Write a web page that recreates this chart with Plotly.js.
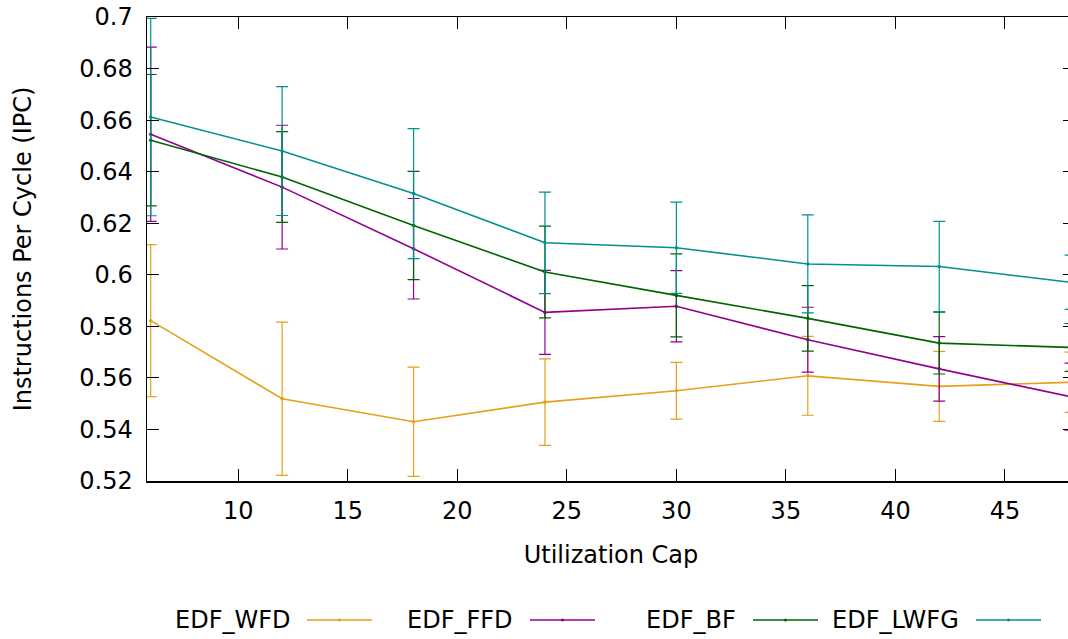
<!DOCTYPE html>
<html>
<head>
<meta charset="utf-8">
<script src="https://cdn.plot.ly/plotly-3.0.1.min.js"></script>
<style>
  html, body { margin: 0; padding: 0; overflow: hidden; background: #fff; }
  #chart { width: 1075px; height: 639px; }
</style>
</head>
<body>
<div id="chart"></div>
<script>
// ---- data ----
const utilizationCap = [6, 12, 18, 24, 30, 36, 42, 48];

const seriesNames = ['EDF_WFD', 'EDF_FFD', 'EDF_BF', 'EDF_LWFG'];
const seriesColors = ['#e4a11b', '#920092', '#006400', '#00908f'];

const edfWfd    = [0.5822, 0.5519, 0.5430, 0.5506, 0.5550, 0.5608, 0.5567, 0.5583];
const edfWfdErr = [0.0295, 0.0297, 0.0212, 0.0168, 0.0110, 0.0153, 0.0136, 0.0117];

const edfFfd    = [0.6545, 0.6340, 0.6101, 0.5854, 0.5878, 0.5748, 0.5635, 0.5527];
const edfFfdErr = [0.0338, 0.0240, 0.0195, 0.0163, 0.0138, 0.0126, 0.0125, 0.0130];

const edfBf     = [0.6522, 0.6379, 0.6191, 0.6011, 0.5920, 0.5831, 0.5735, 0.5718];
const edfBfErr  = [0.0255, 0.0176, 0.0210, 0.0178, 0.0161, 0.0127, 0.0120, 0.0093];

const edfLwfg    = [0.6612, 0.6480, 0.6315, 0.6124, 0.6105, 0.6042, 0.6032, 0.5971];
const edfLwfgErr = [0.0383, 0.0250, 0.0252, 0.0197, 0.0177, 0.0190, 0.0175, 0.0105];

const xTickVals = [10, 15, 20, 25, 30, 35, 40, 45];
const xTickText = ['10', '15', '20', '25', '30', '35', '40', '45'];
const yTickVals = [0.52, 0.54, 0.56, 0.58, 0.60, 0.62, 0.64, 0.66, 0.68, 0.70];
const yTickText = ['0.52', '0.54', '0.56', '0.58', '0.6', '0.62', '0.64', '0.66', '0.68', '0.7'];

const xTitle = 'Utilization Cap';
const yTitle = 'Instructions Per Cycle (IPC)';

// ---- build traces ----
const FONT = 'DejaVu Sans, sans-serif';
const values = [edfWfd, edfFfd, edfBf, edfLwfg];
const errors = [edfWfdErr, edfFfdErr, edfBfErr, edfLwfgErr];

const traces = seriesNames.map((name, i) => ({
  type: 'scatter',
  mode: 'lines+markers',
  name: name,
  x: utilizationCap,
  y: values[i],
  line: { color: seriesColors[i], width: 1.6 },
  marker: { color: seriesColors[i], size: 3.5 },
  error_y: { type: 'data', array: errors[i], visible: true,
             color: seriesColors[i], thickness: 1.2, width: 6 },
  cliponaxis: false,
  showlegend: false,
  hoverinfo: 'x+y'
}));

// ---- layout ----
const L = 147, PLOT_W = 928, T = 17, PLOT_H = 464;
const toPaperX = px => (px - L) / PLOT_W;
const toPaperY = py => (T + PLOT_H - py) / PLOT_H;

const legendTextRight = [292, 515, 738, 961];
const legendLineStart = [307, 530, 753, 976];
const legendLineLen = 65;
const legendY = 620;

const annotations = seriesNames.map((name, i) => ({
  xref: 'paper', yref: 'paper',
  x: toPaperX(legendTextRight[i]), y: toPaperY(legendY),
  xanchor: 'right', yanchor: 'middle',
  text: name, showarrow: false,
  font: { family: FONT, size: 24, color: '#000' }
}));

const shapes = [];
seriesNames.forEach((name, i) => {
  shapes.push({
    type: 'line', xref: 'paper', yref: 'paper',
    x0: toPaperX(legendLineStart[i]), x1: toPaperX(legendLineStart[i] + legendLineLen),
    y0: toPaperY(legendY), y1: toPaperY(legendY),
    line: { color: seriesColors[i], width: 1.6 }
  });
  const cx = legendLineStart[i] + legendLineLen / 2;
  shapes.push({
    type: 'circle', xref: 'paper', yref: 'paper',
    x0: toPaperX(cx - 1.5), x1: toPaperX(cx + 1.5),
    y0: toPaperY(legendY + 1.5), y1: toPaperY(legendY - 1.5),
    fillcolor: seriesColors[i], line: { width: 0 }
  });
});

const layout = {
  width: 1075, height: 639,
  margin: { l: L, r: 0, t: T, b: 639 - T - PLOT_H },
  paper_bgcolor: '#fff', plot_bgcolor: '#fff',
  font: { family: FONT, size: 24, color: '#000' },
  showlegend: false,
  xaxis: {
    range: [5.83, 48.2],
    tickvals: xTickVals, ticktext: xTickText,
    ticks: 'inside', ticklen: 12, tickwidth: 1, tickcolor: '#000',
    showline: true, linecolor: '#000', linewidth: 1.5, mirror: 'ticks',
    showgrid: false, zeroline: false,
    tickfont: { family: FONT, size: 24, color: '#000' },
    ticklabelstandoff: 8,
    title: { text: xTitle, font: { family: FONT, size: 24, color: '#000' }, standoff: 22 }
  },
  yaxis: {
    range: [0.52, 0.70],
    tickvals: yTickVals, ticktext: yTickText,
    ticks: 'inside', ticklen: 12, tickwidth: 1, tickcolor: '#000',
    showline: true, linecolor: '#000', linewidth: 1.5, mirror: 'ticks',
    showgrid: false, zeroline: false,
    tickfont: { family: FONT, size: 24, color: '#000' },
    ticklabelstandoff: 8,
    title: { text: yTitle, font: { family: FONT, size: 24, color: '#000' }, standoff: 41 }
  },
  annotations: annotations,
  shapes: shapes
};

Plotly.newPlot('chart', traces, layout, { displayModeBar: false, staticPlot: true });
</script>
</body>
</html>
